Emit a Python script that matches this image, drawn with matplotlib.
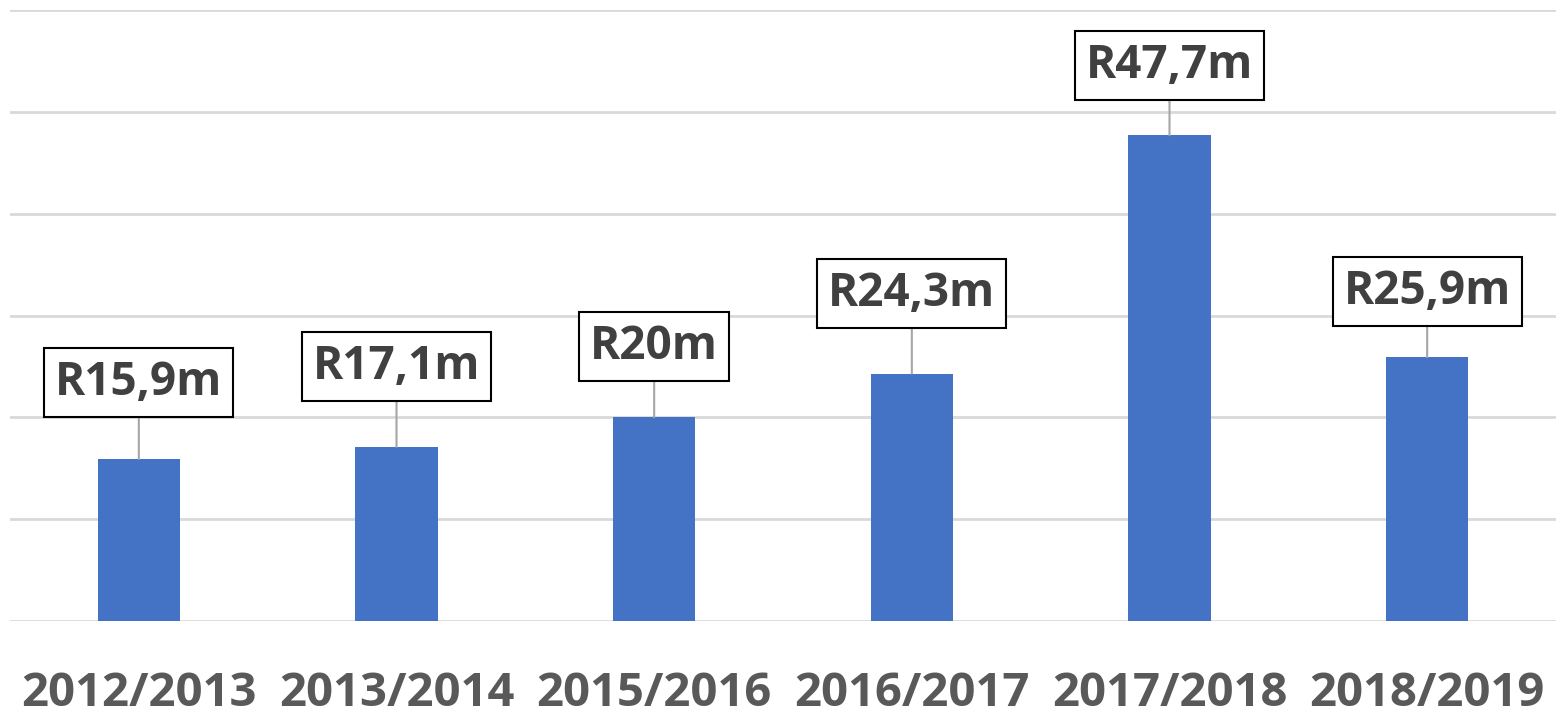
import matplotlib
matplotlib.use("Agg")
import matplotlib.pyplot as plt

years = ["2012/2013", "2013/2014", "2015/2016", "2016/2017", "2017/2018", "2018/2019"]
values = [15.9, 17.1, 20.0, 24.3, 47.7, 25.9]
labels = ["R15,9m", "R17,1m", "R20m", "R24,3m", "R47,7m", "R25,9m"]

# pixel offsets of the label box centres above the bar tops
label_offsets = [77, 80, 71, 80, 70, 66]

plt.rcParams['font.family'] = ['Open Sans', 'DejaVu Sans']

fig = plt.figure(figsize=(15.66, 7.14), dpi=100)
ax = fig.add_axes([10 / 1566, 93 / 714, 1546 / 1566, 611 / 714])

x = list(range(len(years)))
ax.bar(x, values, width=0.32, color="#4472C4", zorder=3)

ax.set_xlim(-0.5, len(years) - 0.5)
ax.set_ylim(0, 60)
ax.set_yticks(range(0, 61, 10))
ax.yaxis.grid(True, color="#d9d9d9", linewidth=2, zorder=0)
ax.set_yticklabels([])
ax.tick_params(axis='y', length=0)
ax.tick_params(axis='x', length=0, pad=35)
ax.set_xticks(x)
ax.set_xticklabels(years, fontsize=34, fontweight='bold', color="#595959")
for s in ax.spines.values():
    s.set_visible(False)

for i, v in enumerate(values):
    ax.annotate(labels[i], xy=(i, v), xytext=(0, label_offsets[i]),
                textcoords='offset pixels', ha='center', va='center',
                fontsize=33, fontweight='bold', color="#404040", zorder=5,
                bbox=dict(boxstyle='square,pad=0.24', fc='white', ec='black', lw=1.5),
                arrowprops=dict(arrowstyle='-', color='#a6a6a6', lw=1.5,
                                shrinkA=0, shrinkB=0))

fig.savefig("out.png", dpi=100)
